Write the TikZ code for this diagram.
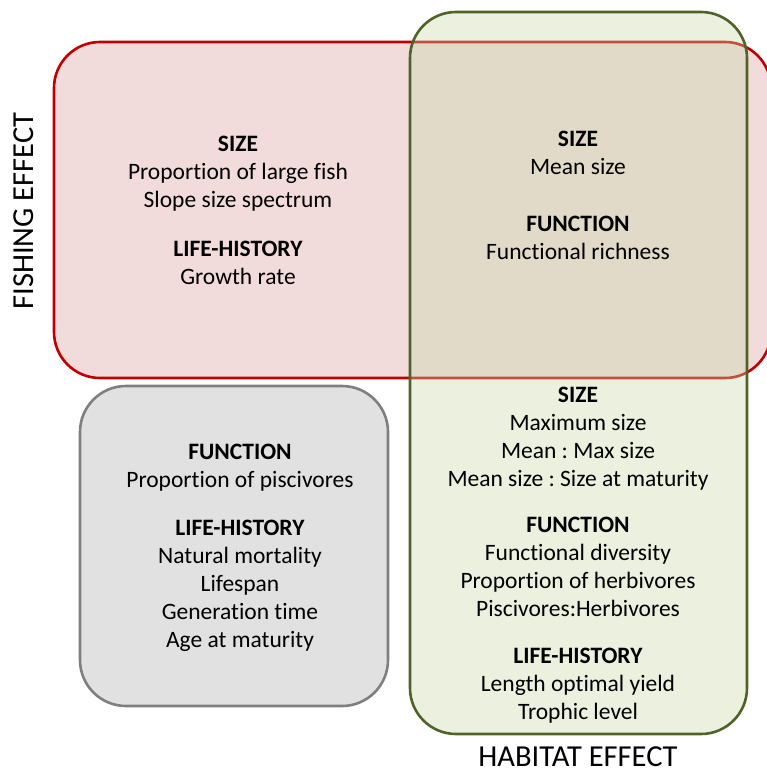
\documentclass[tikz,border=0pt]{standalone}
\usepackage{fontspec}
\setmainfont{Carlito}[Ligatures={NoCommon}]

\definecolor{fishred}{RGB}{192,0,0}
\definecolor{fishpink}{RGB}{242,220,219}
\definecolor{habgreen}{RGB}{79,98,40}
\definecolor{habfill}{RGB}{201,215,169}
\definecolor{bothgray}{RGB}{127,127,127}
\definecolor{bothfill}{RGB}{225,225,225}

\tikzset{%
	effect box/.style={
		rounded corners=46pt,
		line width=2.6pt,
		inner sep=0pt
	},
	block text/.style={
		align=center,
		anchor=north,
		inner sep=0pt,
		font=\fontsize{23.5}{28}\selectfont
	},
	effect label/.style={
		inner sep=0pt,
		font=\fontsize{30.5}{34}\selectfont
	},
}

\newcommand{\group}[1]{\textbf{#1}}
\frenchspacing

\begin{document}
\begin{tikzpicture}[x=1pt, y=-1pt]
\useasboundingbox (0,0) rectangle (766,771);

% the three effect boxes
\node [effect box, draw=fishred, fill=fishpink, minimum width=717pt, minimum height=336pt] (fishing) at (412.5,210) {};
\node [effect box, draw=bothgray, fill=bothfill, minimum width=308pt, minimum height=320pt] (both) at (234,546) {};
\node [effect box, draw=habgreen, fill=habfill, fill opacity=0.37, minimum width=337pt, minimum height=722pt] (habitat) at (578.5,373) {};

% texts
\node [block text] (fishing-only) at (238,135.5) {\group{SIZE}\\ Proportion of large fish\\ Slope size spectrum\\[21pt] \group{LIFE-HISTORY}\\ Growth rate};

\node [block text] (overlap) at (578,130.5) {\group{SIZE}\\ Mean size\\[29pt] \group{FUNCTION}\\ Functional richness};

\node [block text] (habitat-only) at (578,386.5) {\group{SIZE}\\ Maximum size\\ Mean : Max size\\ Mean size : Size at maturity\\[18pt] \group{FUNCTION}\\ Functional diversity\\ Proportion of herbivores\\ Piscivores:Herbivores\\[19pt] \group{LIFE-HISTORY}\\ Length optimal yield\\ Trophic level};

\node [block text] (neither) at (240,443.5) {\group{FUNCTION}\\ Proportion of piscivores\\[20pt] \group{LIFE-HISTORY}\\ Natural mortality\\ Lifespan\\ Generation time\\ Age at maturity};

% axis labels
\node [effect label, rotate=90, anchor=base] (fishing-label) at (33,211) {FISHING EFFECT};
\node [effect label, anchor=base] (habitat-label) at (578,766) {HABITAT EFFECT};

\end{tikzpicture}
\end{document}
